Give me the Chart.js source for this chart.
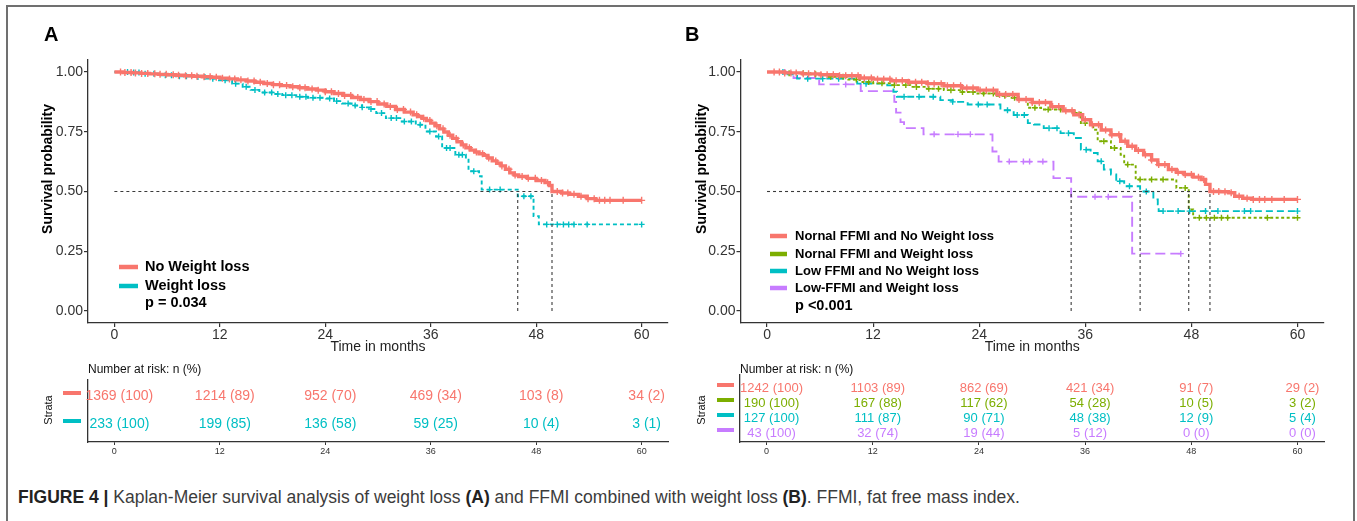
<!DOCTYPE html>
<html><head><meta charset="utf-8">
<script src="https://cdn.jsdelivr.net/npm/chart.js@4.4.1/dist/chart.umd.min.js"></script>
<style>
html,body{margin:0;padding:0;background:#fff;width:1357px;height:521px;overflow:hidden;}
#frame{position:absolute;left:6px;top:5px;width:1349px;height:540px;border:2px solid #707070;box-sizing:border-box;}
canvas{position:absolute;}
#caption{position:absolute;left:18px;top:487px;font-family:"Liberation Sans",Arial,sans-serif;font-size:17.5px;color:#3c3c3c;white-space:nowrap;}
#caption b{color:#222;}
</style></head>
<body>
<div id="frame"></div>
<canvas id="plotA" width="680" height="360" style="left:0;top:0"></canvas>
<canvas id="plotB" width="677" height="360" style="left:680px;top:0"></canvas>
<canvas id="tabA" width="680" height="110" style="left:0;top:360px"></canvas>
<canvas id="tabB" width="677" height="110" style="left:680px;top:360px"></canvas>
<div id="caption"><b>FIGURE 4 |</b> Kaplan-Meier survival analysis of weight loss <b>(A)</b> and FFMI combined with weight loss <b>(B)</b>. FFMI, fat free mass index.</div>
<script>
// ---------- DATA ----------
const timeTicks = [0, 12, 24, 36, 48, 60];
const survTicks = [0, 0.25, 0.5, 0.75, 1];

// Panel A : No Weight loss
const noWL_t = [0,1,2,3,4,5,6,7,8,9,10,11,12,13,14,15,16,17,18,19,20,21,22,23,24,25,26,27,28,29,30,31,32,33,34,34.5,35,35.5,36,36.5,37,37.5,38,38.5,39,39.5,40,40.5,41,41.5,42,42.5,43,43.5,44,44.5,45,45.5,46,47,48,49,49.5,49.8,50.9,51.8,52.8,53.8,54.8,60];
const noWL_s = [1,0.998,0.996,0.994,0.992,0.99,0.988,0.986,0.984,0.982,0.98,0.978,0.974,0.971,0.967,0.962,0.957,0.952,0.947,0.943,0.938,0.934,0.929,0.924,0.917,0.91,0.902,0.893,0.885,0.876,0.866,0.856,0.843,0.832,0.821,0.814,0.806,0.797,0.786,0.775,0.762,0.749,0.735,0.722,0.708,0.695,0.683,0.673,0.665,0.658,0.651,0.64,0.628,0.618,0.607,0.593,0.578,0.569,0.563,0.555,0.546,0.537,0.525,0.5,0.494,0.488,0.48,0.47,0.463,0.463];
const noWL_cens = [0.7,1.2,1.9,2.4,3.1,3.8,4.6,5.2,5.9,6.7,7.3,8.1,8.8,9.4,10.2,10.9,11.6,12.3,13.1,13.7,14.4,15.2,15.9,16.6,17.4,18.1,18.8,19.6,20.3,21.1,21.7,22.5,23.2,24.0,24.7,25.5,26.2,26.9,27.7,28.4,29.2,29.9,30.7,31.4,32.2,32.9,33.7,34.4,35.2,35.9,36.7,37.4,38.2,38.9,39.7,40.4,41.2,41.9,42.6,43.4,44.1,44.9,45.6,46.4,47.1,47.9,48.6,49.3,50.4,51.0,51.6,52.3,53.1,53.9,54.6,55.2,55.8,56.4,57.9,60.0];
// Panel A : Weight loss
const wl_t = [0,1.7,3.0,5.1,7.0,8.9,10.5,11.9,13.4,14.6,15.5,16.5,18.0,19.1,20.7,22.0,24.1,25.0,25.9,27.0,28.2,29.0,29.8,30.9,32.7,34.3,35.4,36.6,37.3,38.8,40.0,40.3,41.5,41.8,45.9,47.7,48.3,60];
const wl_s = [1,0.998,0.993,0.986,0.982,0.979,0.972,0.965,0.951,0.938,0.925,0.914,0.908,0.903,0.896,0.892,0.889,0.878,0.868,0.86,0.852,0.845,0.828,0.807,0.793,0.779,0.751,0.73,0.682,0.654,0.633,0.585,0.564,0.508,0.48,0.397,0.3625,0.3625];
const wl_cens = [1.5,2.2,2.8,3.5,4.5,5.8,6.5,7.4,8.2,9.5,10.3,11.2,12.6,13.8,15.0,16.0,17.1,17.9,18.6,19.5,20.2,21.1,21.8,22.6,23.4,24.5,25.3,26.6,27.4,28.2,29.2,30.4,31.5,32.1,33.0,33.8,34.8,35.9,36.9,37.8,38.2,39.2,39.6,40.9,42.7,43.9,46.6,47.4,49.2,50.4,51.1,51.7,52.3,53.8,60.0];
const medianA = [49.8, 45.9];
const riskA_noWL = ['1369 (100)','1214 (89)','952 (70)','469 (34)','103 (8)','34 (2)'];
const riskA_wl = ['233 (100)','199 (85)','136 (58)','59 (25)','10 (4)','3 (1)'];

// Panel B : Nornal FFMI and No Weight loss
const nfNoWL_t = [0,2,4,6,8,10.5,12,14,16,18.1,20,22,23.8,26,28.4,30,32.1,33.5,34.7,35.7,36.6,37.8,38.9,40,40.8,41.7,42.6,43.5,44.2,45.4,46.3,47.2,48.2,49.1,49.6,50.1,51.2,52.2,52.9,53.8,54.8,60];
const nfNoWL_s = [1,0.996,0.992,0.988,0.984,0.975,0.97,0.963,0.957,0.951,0.942,0.933,0.924,0.906,0.885,0.872,0.855,0.838,0.821,0.8,0.779,0.757,0.7375,0.71,0.689,0.672,0.654,0.632,0.6125,0.592,0.58,0.571,0.56,0.55,0.53,0.5,0.499,0.495,0.48,0.472,0.467,0.467];
const nfNoWL_cens = [0.8,1.4,2.0,2.7,3.3,4.1,4.7,5.4,6.1,6.8,7.5,8.2,8.9,9.6,10.3,11.0,11.8,12.5,13.2,13.9,14.6,15.3,16.0,16.8,17.5,18.2,18.9,19.7,20.4,21.1,21.9,22.6,23.3,24.1,24.8,25.6,26.3,27.0,27.8,28.5,29.3,30.0,30.8,31.5,32.3,33.0,33.8,34.5,35.3,36.0,36.8,37.5,38.3,39.0,39.8,40.5,41.3,42.0,42.8,43.5,44.3,45.0,45.8,46.5,47.3,48.0,48.8,49.4,50.5,51.1,51.8,52.5,53.4,54.3,55.0,55.7,56.3,57.1,58.5,60.0];
// Panel B : Nornal FFMI and Weight loss
const nfWL_t = [0,2,4.9,7,9,10.5,12,14,16.2,18,20,22,23.8,26,27.5,28.7,29.5,31,33.5,34.5,35.5,36.9,37.4,38.9,40,40.4,41.7,46.3,47.7,48.2,60];
const nfWL_s = [1,0.995,0.99,0.98,0.968,0.958,0.953,0.945,0.9375,0.93,0.924,0.916,0.91,0.9,0.892,0.885,0.85,0.843,0.838,0.83,0.786,0.758,0.71,0.682,0.654,0.6125,0.55,0.515,0.425,0.39,0.39];
const nfWL_cens = [2.5,4.1,5.5,7.2,8.6,10.1,11.5,13.0,14.4,15.7,16.9,18.3,19.4,20.8,22.1,23.3,24.5,25.6,26.9,28.0,30.3,31.8,33.2,34.8,36.0,38.1,39.3,40.8,42.2,43.5,44.8,47.3,48.9,49.7,50.6,51.4,52.1,56.6,60.0];
// Panel B : Low FFMI and No Weight loss
const lfNoWL_t = [0,2,3.4,10.2,13.6,14.3,14.7,19.6,21,22.7,26.4,27.9,29.5,30.2,31.3,33.2,34.7,35.5,36.6,37.4,38.1,38.9,39.5,40.4,42.2,43.7,44.2,44.3,60];
const lfNoWL_s = [1,0.99,0.972,0.951,0.944,0.917,0.896,0.882,0.875,0.864,0.84,0.82,0.786,0.78,0.765,0.744,0.724,0.675,0.661,0.626,0.592,0.571,0.543,0.522,0.5,0.467,0.446,0.418,0.418];
const lfNoWL_cens = [1.8,4.6,6.3,8.1,11.2,15.5,17.2,18.8,21.0,23.9,24.9,27.2,28.3,29.1,31.9,32.8,34.1,36.1,37.8,39.9,41.0,42.9,44.8,46.5,47.8,49.6,51.0,54.0,54.7,60.0];
// Panel B : Low-FFMI and Weight loss
const lfWL_t = [0,3.0,5.9,10.6,14.4,14.6,15.1,15.5,17.7,25.5,26.2,32.4,34.4,41.3,47.2];
const lfWL_s = [1,0.975,0.948,0.92,0.875,0.83,0.79,0.765,0.739,0.667,0.625,0.556,0.478,0.24,0.24];
const lfWL_cens = [2.0,8.9,18.9,21.6,23.0,27.4,29.0,29.7,31.2,37.1,38.6,46.8];
const medianB = [50.1, 47.7, 42.2, 34.4];
const riskB_nfNoWL = ['1242 (100)','1103 (89)','862 (69)','421 (34)','91 (7)','29 (2)'];
const riskB_nfWL = ['190 (100)','167 (88)','117 (62)','54 (28)','10 (5)','3 (2)'];
const riskB_lfNoWL = ['127 (100)','111 (87)','90 (71)','48 (38)','12 (9)','5 (4)'];
const riskB_lfWL = ['43 (100)','32 (74)','19 (44)','5 (12)','0 (0)','0 (0)'];

// ---------- STYLE ----------
const RED = '#F8766D', CYAN = '#00BFC4', GREEN = '#7CAE00', PURPLE = '#C77CFF';
const FONT = '"Liberation Sans", Arial, sans-serif';
const AXIS = '#333333';

function pts(ts, ss) { return ts.map((t, i) => ({x: t, y: ss[i]})); }
function survAt(ts, ss, t) { let s = ss[0]; for (let i = 0; i < ts.length; i++) { if (ts[i] <= t) s = ss[i]; } return s; }
function censPts(ts, ss, cs) { return cs.map(c => ({x: c, y: survAt(ts, ss, c)})); }

function curveSet(ts, ss, color, dash, width) {
  return {data: pts(ts, ss), borderColor: color, borderWidth: width, borderDash: dash, stepped: true,
          pointRadius: 0, fill: false, tension: 0, borderCapStyle: 'butt'};
}
function censSet(ts, ss, cs, color, r) {
  return {data: censPts(ts, ss, cs), showLine: false, pointStyle: 'cross', pointRadius: r || 3,
          borderColor: color, backgroundColor: color, pointBorderWidth: 1.4};
}
function medianSets(meds) {
  const sets = [];
  const mx = Math.max(...meds);
  sets.push({data: [{x: 0, y: 0.5}, {x: mx, y: 0.5}], borderColor: '#3a3a3a', borderWidth: 1.1, borderDash: [3, 3], pointRadius: 0});
  meds.forEach(m => sets.push({data: [{x: m, y: 0}, {x: m, y: 0.5}], borderColor: '#3a3a3a', borderWidth: 1.1, borderDash: [3, 3], pointRadius: 0}));
  return sets;
}

const decor = {
  id: 'decor',
  afterDraw(chart, args, o) {
    const ctx = chart.ctx;
    ctx.save();
    ctx.fillStyle = '#000';
    ctx.textBaseline = 'middle';
    ctx.textAlign = 'left';
    ctx.font = 'bold 20px ' + FONT;
    ctx.fillText(o.letter, o.letterX, 35);
    ctx.save();
    ctx.translate(o.yTitleX, 169);
    ctx.rotate(-Math.PI / 2);
    ctx.textAlign = 'center';
    ctx.font = 'bold 14px ' + FONT;
    ctx.fillText('Survival probability', 0, 0);
    ctx.restore();
    o.legend.forEach(e => {
      ctx.strokeStyle = e.color;
      ctx.lineWidth = 4.5;
      ctx.beginPath(); ctx.moveTo(o.segX1, e.y); ctx.lineTo(o.segX2, e.y); ctx.stroke();
      ctx.fillStyle = '#000';
      ctx.font = 'bold ' + o.fontSize + 'px ' + FONT;
      ctx.fillText(e.label, o.textX, e.y);
    });
    ctx.font = 'bold ' + o.pSize + 'px ' + FONT;
    ctx.fillText(o.pText, o.textX, o.pY);
    ctx.restore();
  }
};

function plotOptions(padL, padR, decorOpts) {
  return {
    responsive: false, animation: false, events: [],
    layout: {autoPadding: false, padding: {left: padL, top: 60, right: padR, bottom: 0}},
    plugins: {legend: {display: false}, tooltip: {enabled: false}, title: {display: false}, decor: decorOpts},
    scales: {
      x: {type: 'linear', min: -3, max: 63,
          afterBuildTicks: s => { s.ticks = timeTicks.map(v => ({value: v})); },
          afterFit: s => { s.height = 37; },
          ticks: {font: {family: FONT, size: 14}, color: AXIS, padding: 0, maxRotation: 0, autoSkip: false},
          grid: {display: true, drawOnChartArea: false, drawTicks: true, tickLength: 4, color: AXIS, lineWidth: 1.2},
          border: {display: true, color: AXIS, width: 1.3},
          title: {display: true, text: 'Time in months', font: {family: FONT, size: 14}, color: '#222', padding: {top: 0, bottom: 4}}},
      y: {type: 'linear', min: -0.05, max: 1.05,
          afterBuildTicks: s => { s.ticks = survTicks.map(v => ({value: v})); },
          afterFit: s => { s.width = 48.5; },
          ticks: {font: {family: FONT, size: 14}, color: AXIS, padding: 1, callback: v => Number(v).toFixed(2)},
          grid: {display: true, drawOnChartArea: false, drawTicks: true, tickLength: 4, color: AXIS, lineWidth: 1.2},
          border: {display: true, color: AXIS, width: 1.3}}
    }
  };
}

// ---------- PLOT A ----------
new Chart(document.getElementById('plotA'), {
  type: 'line',
  data: {datasets: [
    ...medianSets(medianA),
    censSet(noWL_t, noWL_s, noWL_cens, RED, 3.5),
    curveSet(noWL_t, noWL_s, RED, [], 3.4),
    censSet(wl_t, wl_s, wl_cens, CYAN, 3),
    curveSet(wl_t, wl_s, CYAN, [4, 3], 1.9)
  ]},
  options: plotOptions(39.5, 12, {
    letter: 'A', letterX: 44, yTitleX: 48, segX1: 119, segX2: 138, textX: 145, fontSize: 14.5, pSize: 14.5,
    legend: [{label: 'No Weight loss', color: RED, y: 267}, {label: 'Weight loss', color: CYAN, y: 286}],
    pText: 'p = 0.034', pY: 303
  }),
  plugins: [decor]
});

// ---------- PLOT B ----------
new Chart(document.getElementById('plotB'), {
  type: 'line',
  data: {datasets: [
    ...medianSets(medianB),
    censSet(nfNoWL_t, nfNoWL_s, nfNoWL_cens, RED, 3.5),
    curveSet(nfNoWL_t, nfNoWL_s, RED, [], 3.4),
    censSet(nfWL_t, nfWL_s, nfWL_cens, GREEN, 3),
    curveSet(nfWL_t, nfWL_s, GREEN, [3, 2.5], 1.9),
    censSet(lfNoWL_t, lfNoWL_s, lfNoWL_cens, CYAN, 3),
    curveSet(lfNoWL_t, lfNoWL_s, CYAN, [7, 4], 1.9),
    censSet(lfWL_t, lfWL_s, lfWL_cens, PURPLE, 3),
    curveSet(lfWL_t, lfWL_s, PURPLE, [10, 5], 1.9)
  ]},
  options: plotOptions(12, 33, {
    letter: 'B', letterX: 5, yTitleX: 22, segX1: 90, segX2: 107, textX: 115, fontSize: 13, pSize: 14.5,
    legend: [{label: 'Nornal FFMI and No Weight loss', color: RED, y: 236},
             {label: 'Nornal FFMI and Weight loss', color: GREEN, y: 254},
             {label: 'Low FFMI and No Weight loss', color: CYAN, y: 271},
             {label: 'Low-FFMI and Weight loss', color: PURPLE, y: 288}],
    pText: 'p <0.001', pY: 306
  }),
  plugins: [decor]
});

// ---------- RISK TABLES ----------
const riskText = {
  id: 'riskText',
  afterDraw(chart, args, o) {
    const ctx = chart.ctx;
    ctx.save();
    ctx.textBaseline = 'middle';
    ctx.textAlign = 'center';
    ctx.font = o.fontSize + 'px ' + FONT;
    chart.data.datasets.forEach((ds, i) => {
      const meta = chart.getDatasetMeta(i);
      ctx.fillStyle = ds.textColor;
      meta.data.forEach((el, j) => ctx.fillText(ds.labels[j], el.x + 5, el.y));
      ctx.strokeStyle = ds.textColor;
      ctx.lineWidth = 4;
      ctx.beginPath(); ctx.moveTo(o.barX1, meta.data[0].y - 3); ctx.lineTo(o.barX2, meta.data[0].y - 3); ctx.stroke();
    });
    ctx.fillStyle = '#111';
    ctx.textAlign = 'left';
    ctx.font = '12px ' + FONT;
    ctx.fillText('Number at risk: n (%)', chart.chartArea.left, 10);
    ctx.save();
    ctx.translate(o.strataX, 50);
    ctx.rotate(-Math.PI / 2);
    ctx.textAlign = 'center';
    ctx.font = '11px ' + FONT;
    ctx.fillText('Strata', 0, 0);
    ctx.restore();
    ctx.restore();
  }
};

function tableConfig(rows, padL, padR, top, yMin, yMax, opts) {
  return {
    type: 'line',
    data: {datasets: rows.map((r, i) => ({
      data: timeTicks.map(t => ({x: t, y: i})), labels: r.labels, textColor: r.color,
      showLine: false, pointRadius: 0
    }))},
    options: {
      responsive: false, animation: false, events: [],
      layout: {autoPadding: false, padding: {left: padL, top: top, right: padR, bottom: 0}},
      plugins: {legend: {display: false}, tooltip: {enabled: false}, riskText: opts},
      scales: {
        x: {type: 'linear', min: -3, max: 63,
            afterBuildTicks: s => { s.ticks = timeTicks.map(v => ({value: v})); },
            afterFit: s => { s.height = 28; },
            ticks: {font: {family: FONT, size: 9}, color: AXIS, padding: 1, maxRotation: 0, autoSkip: false},
            grid: {display: true, drawOnChartArea: false, drawTicks: true, tickLength: 3, color: AXIS, lineWidth: 1},
            border: {display: true, color: AXIS, width: 1.3}},
        y: {type: 'linear', min: yMin, max: yMax, reverse: true,
            afterFit: s => { s.width = 0; },
            ticks: {display: false}, grid: {display: false},
            border: {display: true, color: AXIS, width: 1.3}}
      }
    },
    plugins: [riskText]
  };
}

new Chart(document.getElementById('tabA'), tableConfig(
  [{labels: riskA_noWL, color: RED}, {labels: riskA_wl, color: CYAN}],
  88, 12, 20, -0.571, 1.643, {fontSize: 14, barX1: 63, barX2: 81, strataX: 49}));

new Chart(document.getElementById('tabB'), tableConfig(
  [{labels: riskB_nfNoWL, color: RED}, {labels: riskB_nfWL, color: GREEN},
   {labels: riskB_lfNoWL, color: CYAN}, {labels: riskB_lfWL, color: PURPLE}],
  60, 33, 15, -0.867, 3.6, {fontSize: 13, barX1: 37, barX2: 54, strataX: 22}));
</script>
</body></html>
